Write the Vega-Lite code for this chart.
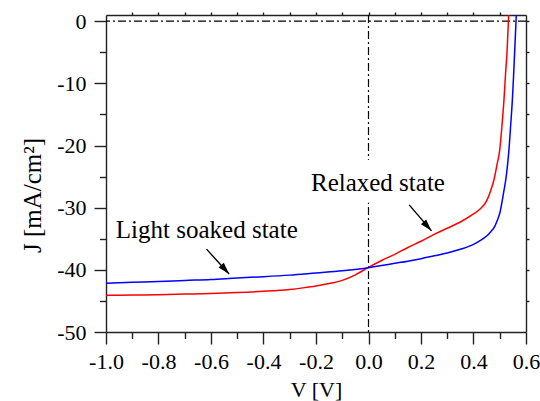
{
  "$schema": "https://vega.github.io/schema/vega-lite/v6.json",
  "width": 420,
  "height": 317,
  "autosize": {"type": "none"},
  "padding": {"left": 106, "top": 15, "right": 14, "bottom": 69},
  "background": "white",
  "config": {
    "view": {"stroke": null},
    "font": "Liberation Serif",
    "axis": {
      "labelFont": "Liberation Serif",
      "titleFont": "Liberation Serif",
      "labelFontSize": 22,
      "titleFontSize": 22,
      "titleFontWeight": "normal",
      "labelColor": "black",
      "titleColor": "black",
      "domainColor": "#222222",
      "tickColor": "#222222",
      "domainWidth": 1.4,
      "tickWidth": 1.4,
      "grid": false,
      "labelFlush": false,
      "labelOverlap": false
    }
  },
  "datasets": {
    "curves": [
      {"s": "Relaxed state", "V": -1.0, "J": -44.1},
      {"s": "Relaxed state", "V": -0.9, "J": -44.05},
      {"s": "Relaxed state", "V": -0.8, "J": -44.0},
      {"s": "Relaxed state", "V": -0.7, "J": -43.9},
      {"s": "Relaxed state", "V": -0.6, "J": -43.8},
      {"s": "Relaxed state", "V": -0.5, "J": -43.65},
      {"s": "Relaxed state", "V": -0.4, "J": -43.45},
      {"s": "Relaxed state", "V": -0.3, "J": -43.15},
      {"s": "Relaxed state", "V": -0.25, "J": -42.9},
      {"s": "Relaxed state", "V": -0.2, "J": -42.6},
      {"s": "Relaxed state", "V": -0.15, "J": -42.2},
      {"s": "Relaxed state", "V": -0.1, "J": -41.7},
      {"s": "Relaxed state", "V": -0.05, "J": -40.8},
      {"s": "Relaxed state", "V": 0.0, "J": -39.6},
      {"s": "Relaxed state", "V": 0.05, "J": -38.5},
      {"s": "Relaxed state", "V": 0.1, "J": -37.5},
      {"s": "Relaxed state", "V": 0.15, "J": -36.4},
      {"s": "Relaxed state", "V": 0.2, "J": -35.4},
      {"s": "Relaxed state", "V": 0.25, "J": -34.3},
      {"s": "Relaxed state", "V": 0.3, "J": -33.3},
      {"s": "Relaxed state", "V": 0.35, "J": -32.3},
      {"s": "Relaxed state", "V": 0.4, "J": -31.0},
      {"s": "Relaxed state", "V": 0.425, "J": -30.2},
      {"s": "Relaxed state", "V": 0.45, "J": -28.9},
      {"s": "Relaxed state", "V": 0.465, "J": -27.3},
      {"s": "Relaxed state", "V": 0.478, "J": -25.5},
      {"s": "Relaxed state", "V": 0.49, "J": -23.0},
      {"s": "Relaxed state", "V": 0.5, "J": -20.7},
      {"s": "Relaxed state", "V": 0.508, "J": -17.0},
      {"s": "Relaxed state", "V": 0.516, "J": -12.7},
      {"s": "Relaxed state", "V": 0.522, "J": -8.5},
      {"s": "Relaxed state", "V": 0.528, "J": -4.7},
      {"s": "Relaxed state", "V": 0.534, "J": 1.0},
      {"s": "Light soaked state", "V": -1.0, "J": -42.15},
      {"s": "Light soaked state", "V": -0.9, "J": -42.0},
      {"s": "Light soaked state", "V": -0.8, "J": -41.87},
      {"s": "Light soaked state", "V": -0.7, "J": -41.7},
      {"s": "Light soaked state", "V": -0.6, "J": -41.55},
      {"s": "Light soaked state", "V": -0.5, "J": -41.3},
      {"s": "Light soaked state", "V": -0.4, "J": -41.1},
      {"s": "Light soaked state", "V": -0.3, "J": -40.85},
      {"s": "Light soaked state", "V": -0.2, "J": -40.5},
      {"s": "Light soaked state", "V": -0.1, "J": -40.15},
      {"s": "Light soaked state", "V": 0.0, "J": -39.65},
      {"s": "Light soaked state", "V": 0.05, "J": -39.3},
      {"s": "Light soaked state", "V": 0.1, "J": -38.95},
      {"s": "Light soaked state", "V": 0.15, "J": -38.6},
      {"s": "Light soaked state", "V": 0.2, "J": -38.2},
      {"s": "Light soaked state", "V": 0.25, "J": -37.75},
      {"s": "Light soaked state", "V": 0.3, "J": -37.3},
      {"s": "Light soaked state", "V": 0.35, "J": -36.7},
      {"s": "Light soaked state", "V": 0.4, "J": -35.9},
      {"s": "Light soaked state", "V": 0.425, "J": -35.3},
      {"s": "Light soaked state", "V": 0.449, "J": -34.6},
      {"s": "Light soaked state", "V": 0.465, "J": -33.9},
      {"s": "Light soaked state", "V": 0.481, "J": -33.0},
      {"s": "Light soaked state", "V": 0.49, "J": -32.1},
      {"s": "Light soaked state", "V": 0.5, "J": -30.9},
      {"s": "Light soaked state", "V": 0.51, "J": -28.75},
      {"s": "Light soaked state", "V": 0.517, "J": -27.0},
      {"s": "Light soaked state", "V": 0.523, "J": -25.5},
      {"s": "Light soaked state", "V": 0.53, "J": -23.0},
      {"s": "Light soaked state", "V": 0.535, "J": -20.7},
      {"s": "Light soaked state", "V": 0.542, "J": -16.5},
      {"s": "Light soaked state", "V": 0.548, "J": -12.7},
      {"s": "Light soaked state", "V": 0.553, "J": -8.5},
      {"s": "Light soaked state", "V": 0.557, "J": -4.7},
      {"s": "Light soaked state", "V": 0.563, "J": 1.0}
    ],
    "notes": [
      {"t": "Light soaked state", "V": -0.616, "J": -34.9},
      {"t": "Relaxed state", "V": 0.036, "J": -27.26}
    ],
    "arrows": [
      {"V": -0.617, "J": -36.67, "V2": -0.531, "J2": -40.68},
      {"V": 0.155, "J": -29.55, "V2": 0.24, "J2": -33.73}
    ]
  },
  "layer": [
    {
      "data": {"values": [{}]},
      "mark": {"type": "rule", "color": "black", "strokeWidth": 1.2, "strokeDash": [8, 3, 2, 3]},
      "encoding": {
        "y": {"datum": 0, "type": "quantitative",
          "scale": {"domain": [-50, 1], "nice": false, "zero": false},
          "axis": {"orient": "left", "values": [-45, -35, -25, -15, -5], "tickSize": 6.5, "labels": false, "domain": false, "title": null}}
      }
    },
    {
      "data": {"values": [{}]},
      "mark": {"type": "rule", "color": "black", "strokeWidth": 1.2, "strokeDash": [8, 3, 2, 3]},
      "encoding": {
        "x": {"datum": 0, "type": "quantitative",
          "scale": {"domain": [-1, 0.6], "nice": false, "zero": false},
          "axis": {"orient": "bottom", "values": [-0.9, -0.7, -0.5, -0.3, -0.1, 0.1, 0.3, 0.5], "tickSize": 6.5, "labels": false, "domain": false, "title": null}}
      }
    },
    {
      "data": {"values": [{}]},
      "mark": {"type": "rect", "color": "white"},
      "encoding": {
        "x": {"datum": -0.02, "type": "quantitative",
          "scale": {"domain": [-1, 0.6], "nice": false, "zero": false},
          "axis": {"orient": "top", "values": [-0.9, -0.8, -0.7, -0.6, -0.5, -0.4, -0.3, -0.2, -0.1, 0, 0.1, 0.2, 0.3, 0.4, 0.5], "tickSize": 3, "labels": false, "domain": true, "title": null}},
        "x2": {"datum": 0.02},
        "y": {"datum": -22.3, "type": "quantitative",
          "scale": {"domain": [-50, 1], "nice": false, "zero": false},
          "axis": {"orient": "right", "values": [-45, -40, -35, -30, -25, -20, -15, -10, -5, 0], "tickSize": 3, "labels": false, "domain": true, "title": null}},
        "y2": {"datum": -29.2}
      }
    },
    {
      "data": {"name": "curves"},
      "mark": {"type": "line", "strokeWidth": 1.5, "clip": true, "interpolate": "monotone"},
      "encoding": {
        "x": {"field": "V", "type": "quantitative",
          "scale": {"domain": [-1, 0.6], "nice": false, "zero": false},
          "axis": {"orient": "bottom", "values": [-1, -0.8, -0.6, -0.4, -0.2, 0, 0.2, 0.4, 0.6], "tickSize": 12, "labelPadding": 7, "title": "V [V]", "titlePadding": 7,
            "labelExpr": "(datum.value < -0.001 ? '-' : '') + format(abs(datum.value), '.1f')"}},
        "y": {"field": "J", "type": "quantitative",
          "scale": {"domain": [-50, 1], "nice": false, "zero": false},
          "axis": {"orient": "left", "values": [-50, -40, -30, -20, -10, 0], "tickSize": 12, "labelPadding": 8, "title": "J [mA/cm²]", "titlePadding": 11, "titleFontSize": 25, "titleY": 180,
            "labelExpr": "(datum.value < 0 ? '-' : '') + format(abs(datum.value), 'd')"}},
        "color": {"field": "s", "type": "nominal",
          "scale": {"domain": ["Relaxed state", "Light soaked state"], "range": ["#ff0000", "#0000ff"]},
          "legend": null}
      }
    },
    {
      "data": {"name": "notes"},
      "mark": {"type": "text", "font": "Liberation Serif", "fontSize": 25, "color": "black", "align": "center", "baseline": "alphabetic"},
      "encoding": {
        "x": {"field": "V", "type": "quantitative", "axis": null},
        "y": {"field": "J", "type": "quantitative", "axis": null},
        "text": {"field": "t"}
      }
    },
    {
      "data": {"name": "arrows"},
      "mark": {"type": "rule", "color": "black", "strokeWidth": 1.4},
      "encoding": {
        "x": {"field": "V", "type": "quantitative", "axis": null},
        "y": {"field": "J", "type": "quantitative", "axis": null},
        "x2": {"field": "V2"},
        "y2": {"field": "J2"}
      }
    },
    {
      "data": {"name": "arrows"},
      "mark": {"type": "point", "shape": "M0,0L0.7,2.4L-0.7,2.4Z", "size": 100, "filled": true, "color": "black", "opacity": 1, "angle": 138.5},
      "encoding": {
        "x": {"field": "V2", "type": "quantitative", "axis": null},
        "y": {"field": "J2", "type": "quantitative", "axis": null}
      }
    }
  ],
  "resolve": {"axis": {"x": "independent", "y": "independent"}}
}
